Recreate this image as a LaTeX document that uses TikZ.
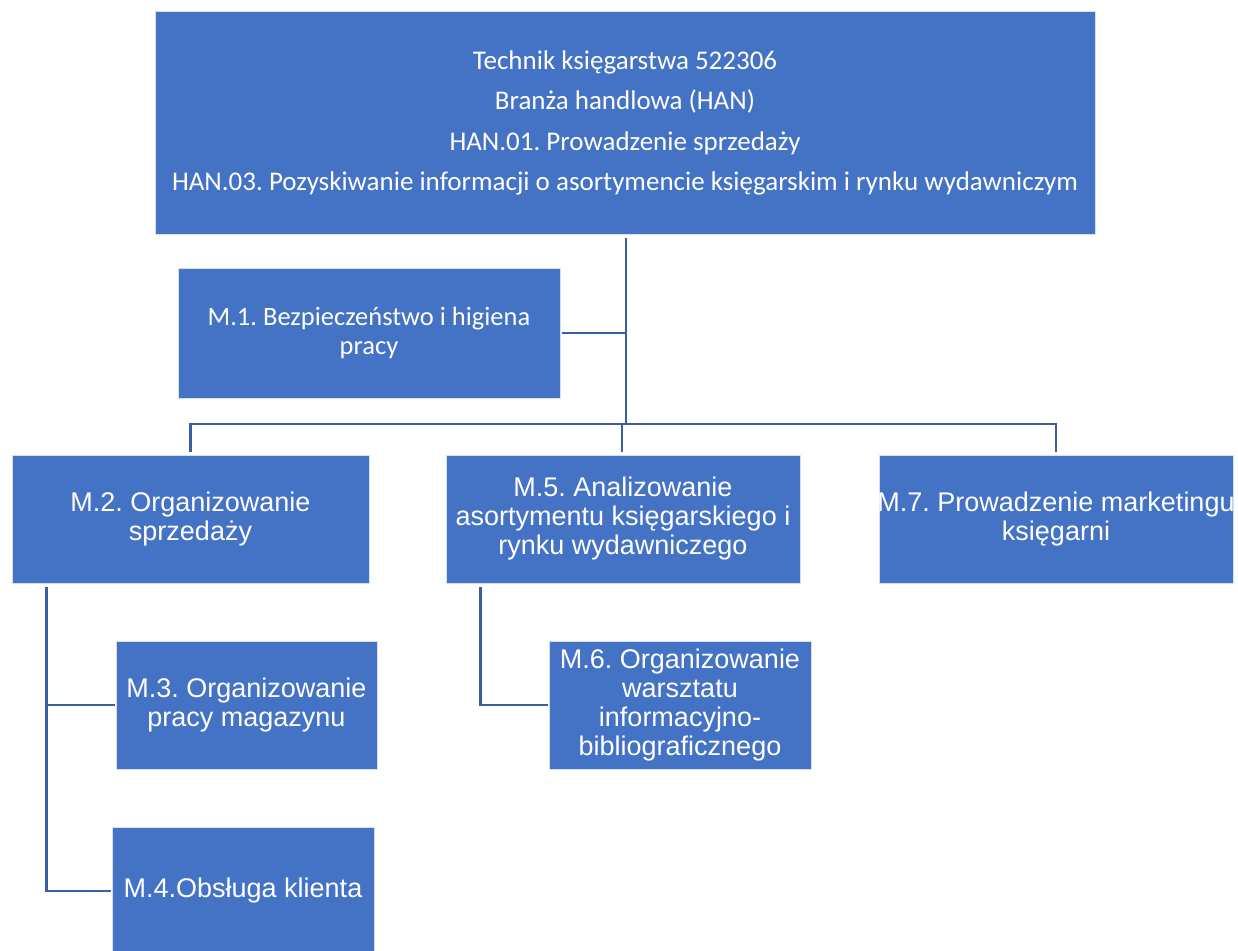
\documentclass[tikz,border=0pt]{standalone}
\usepackage{fontspec}
\setmainfont{Liberation Sans}
\newfontfamily\calfont{Carlito}
\definecolor{boxblue}{HTML}{4472C4}
\definecolor{lineblue}{HTML}{3A5E9F}
\definecolor{edgeblue}{HTML}{D6DFF0}
\begin{document}
\frenchspacing
\begin{tikzpicture}[x=1pt,y=-1pt,
  box/.style={fill=boxblue, draw=edgeblue, line width=0.7pt, text=white, align=center, inner sep=0pt},
  arialtext/.style={font=\frenchspacing\fontsize{27}{29}\selectfont},
  caltext/.style={font=\frenchspacing\calfont\fontsize{26.5}{29}\selectfont},
  conn/.style={draw=lineblue, line width=2.6pt, line cap=rect}]
\useasboundingbox (0,0) rectangle (1238,950);
\fill[white] (0,0) rectangle (1238,950);

% boxes
\node[box, minimum width=940pt, minimum height=223pt, font=\frenchspacing\calfont\fontsize{27}{40.5}\selectfont] (top) at (625,123)
  {Technik księgarstwa 522306\\Branża handlowa (HAN)\\HAN.01. Prowadzenie sprzedaży\\HAN.03. Pozyskiwanie informacji o asortymencie księgarskim i rynku wydawniczym};
\node[box, caltext, minimum width=382pt, minimum height=130pt] (m1) at (369,333)
  {M.1. Bezpieczeństwo i higiena\\pracy};
\node[box, arialtext, minimum width=357pt, minimum height=128pt] (m2) at (190.5,519)
  {M.2. Organizowanie\\sprzedaży};
\node[box, arialtext, minimum width=354pt, minimum height=128pt] (m5) at (623,519)
  {M.5. Analizowanie\\asortymentu księgarskiego i\\rynku wydawniczego};
\node[box, arialtext, minimum width=354pt, minimum height=128pt] (m7) at (1056,519)
  {\makebox[340pt]{M.7. Prowadzenie marketingu}\\księgarni};
\node[box, arialtext, minimum width=261pt, minimum height=128pt] (m3) at (246.5,705)
  {M.3. Organizowanie\\pracy magazynu};
\node[box, arialtext, minimum width=262pt, minimum height=128pt] (m4) at (243,891)
  {M.4.Obsługa klienta};
\node[box, arialtext, minimum width=262pt, minimum height=128pt] (m6) at (680,705)
  {M.6. Organizowanie\\warsztatu\\informacyjno-\\bibliograficznego};

% junction points
\coordinate (j) at (626,424);
\coordinate (s2) at ([xshift=35pt,yshift=-4pt]m2.south west);
\coordinate (s5) at ([xshift=35pt,yshift=-4pt]m5.south west);

% connectors
\draw[conn, line cap=butt] ([yshift=-3pt]top.south -| j) -- (j);
\draw[conn, line cap=butt] ([xshift=2pt]m1.east) -- (m1.east -| j);
\draw[conn] (m2.north |- j) -- (m7.north |- j);
\draw[conn, line cap=butt] (m2.north |- j) -- ([yshift=3pt]m2.north);
\draw[conn, line cap=butt] ([xshift=-1pt]m5.north |- j) -- ([xshift=-1pt,yshift=3pt]m5.north);
\draw[conn, line cap=butt] (m7.north |- j) -- ([yshift=3pt]m7.north);
\draw[conn, line cap=butt] (s2) |- ([xshift=-1pt]m3.west);
\draw[conn, line cap=butt] (s2) |- ([xshift=-1pt]m4.west);
\draw[conn, line cap=butt] (s5) |- ([xshift=-1pt]m6.west);
\end{tikzpicture}
\end{document}
